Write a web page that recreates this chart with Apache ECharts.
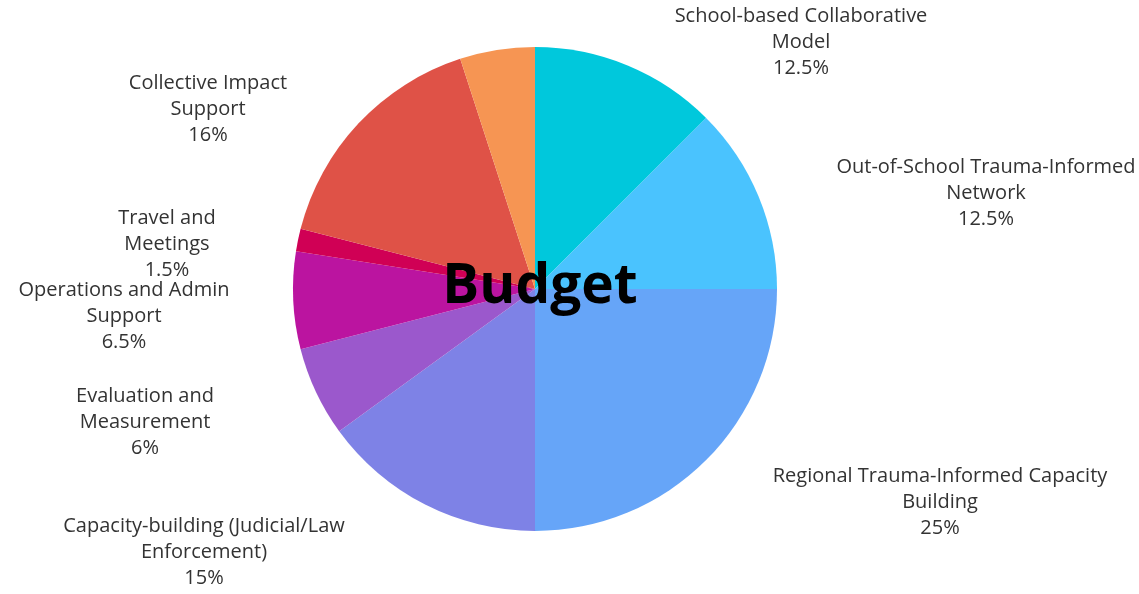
<!DOCTYPE html>
<html>
<head>
<meta charset="utf-8">
<script src="https://cdn.jsdelivr.net/npm/echarts@6/dist/echarts.min.js"></script>
<style>
  html, body { margin: 0; padding: 0; background: #ffffff; }
  #chart { width: 1139px; height: 594px; }
</style>
</head>
<body>
<div id="chart"></div>
<script>
// Budget shares (percent), clockwise from 12 o'clock
const categories = [
  'School-based Collaborative\nModel',
  'Out-of-School Trauma-Informed\nNetwork',
  'Regional Trauma-Informed Capacity\nBuilding',
  'Capacity-building (Judicial/Law\nEnforcement)',
  'Evaluation and\nMeasurement',
  'Operations and Admin\nSupport',
  'Travel and\nMeetings',
  'Collective Impact\nSupport',
  ''
];
const shares = [12.5, 12.5, 25, 15, 6, 6.5, 1.5, 16, 5];
const sliceColors = [
  '#00C8DC', '#4AC3FE', '#66A5F8', '#7E82E6', '#9B58CC',
  '#BB14A0', '#D00055', '#DF5247', '#F69553'
];
// Label block centres (px) for each slice; the last slice carries no label
const labelSpots = [
  [801, 42], [986, 193], [940, 502], [204, 552], [145, 422],
  [124, 316], [167, 244], [208, 109], null
];

const chart = echarts.init(document.getElementById('chart'));
chart.setOption({
  backgroundColor: '#ffffff',
  animation: false,
  series: [{
    type: 'pie',
    center: [535, 289],
    radius: [0, 242],
    startAngle: 90,
    clockwise: true,
    avoidLabelOverlap: false,
    data: categories.map((name, i) => ({
      name: name,
      value: shares[i],
      itemStyle: { color: sliceColors[i] },
      label: { show: labelSpots[i] !== null }
    })),
    label: {
      position: 'outside',
      formatter: p => p.name + '\n' + p.value + '%',
      fontFamily: 'Open Sans',
      fontSize: 20,
      lineHeight: 26,
      color: '#333333',
      align: 'center'
    },
    labelLine: { show: false },
    labelLayout: function (params) {
      const spot = labelSpots[params.dataIndex];
      if (!spot) return {};
      return { x: spot[0], y: spot[1], align: 'center', verticalAlign: 'middle' };
    },
    emphasis: { disabled: true }
  }],
  graphic: [{
    type: 'text',
    x: 540,
    y: 287,
    style: {
      text: 'Budget',
      fontFamily: 'Open Sans',
      fontWeight: 'bold',
      fontSize: 55,
      fill: '#000000',
      align: 'center',
      verticalAlign: 'middle'
    },
    z: 100
  }]
});
</script>
</body>
</html>
